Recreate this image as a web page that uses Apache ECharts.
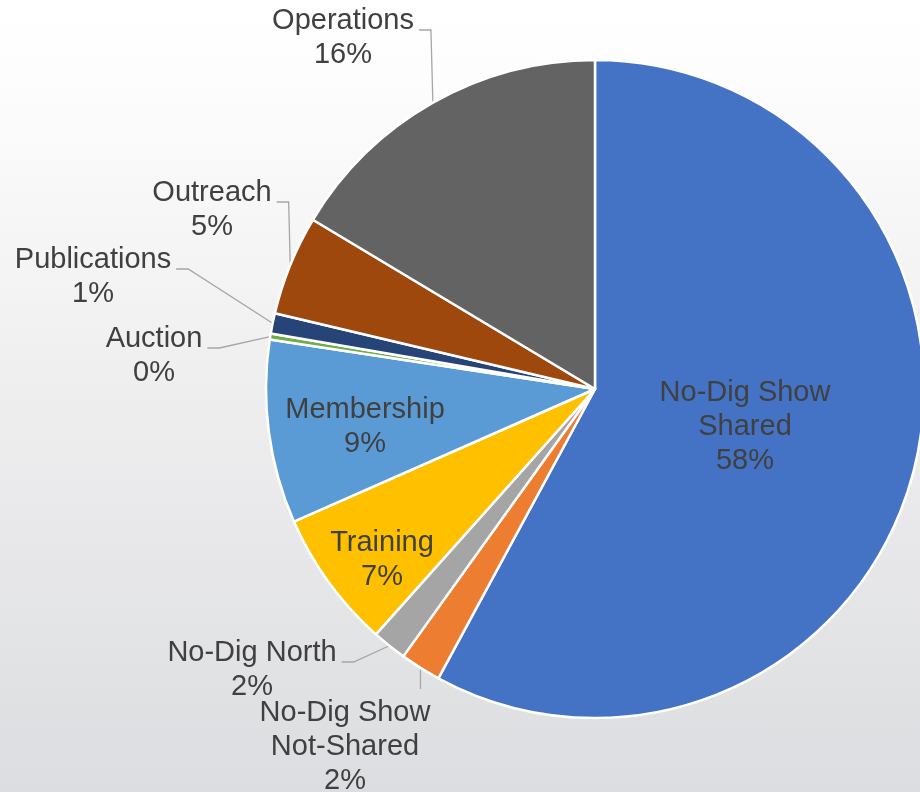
<!DOCTYPE html>
<html>
<head>
<meta charset="utf-8">
<script src="https://cdn.jsdelivr.net/npm/echarts@6/dist/echarts.min.js"></script>
<style>
  html, body { margin: 0; padding: 0; }
  #chart {
    width: 920px; height: 792px;
    background: linear-gradient(to bottom, #ffffff 0%, #fdfdfd 10%, #eeeeef 50%, #dcdde0 100%);
  }
</style>
</head>
<body>
<div id="chart"></div>
<script>
// ---- data ----
var categories = ['No-Dig Show\nShared', 'No-Dig Show\nNot-Shared', 'No-Dig North', 'Training',
                  'Membership', 'Auction', 'Publications', 'Outreach', 'Operations'];
var values = [57.9, 2.0, 1.7, 6.8, 9.0, 0.3, 1.0, 4.9, 16.4];

// ---- styles / layout (not data) ----
var colors = ['#4472C4', '#ED7D31', '#A5A5A5', '#FFC000', '#5B9BD5', '#70AD47', '#264478', '#9E480E', '#636363'];
var insideLabel = [true, false, false, true, true, false, false, false, false];
// label block centres
var labelPos = [[745, 427], [345, 747], [252, 670], [382, 560], [365, 427], [154, 356], [93, 277], [212, 210], [343, 38]];
var lineStyleKind = ['none', 'top', 'right', 'none', 'none', 'right', 'right', 'right', 'right'];
var CX = 595, CY = 389, R = 329;
var FS = 29, LH = 34;

var total = values.reduce(function (a, b) { return a + b; }, 0);
var midAngles = [];
(function () {
  var acc = 0;
  for (var i = 0; i < values.length; i++) {
    midAngles.push((acc + values[i] / 2) / total * Math.PI * 2);
    acc += values[i];
  }
})();

var chart = echarts.init(document.getElementById('chart'), null, { renderer: 'canvas' });

var dataItems = categories.map(function (c, i) {
  return {
    name: c,
    value: values[i],
    itemStyle: { color: colors[i] },
    label: { position: insideLabel[i] ? 'inside' : 'outside' },
    labelLine: { show: !insideLabel[i] }
  };
});

chart.setOption({
  backgroundColor: 'transparent',
  animation: false,
  series: [{
    type: 'pie',
    center: [CX, CY],
    radius: R,
    startAngle: 90,
    clockwise: true,
    avoidLabelOverlap: false,
    percentPrecision: 0,
    itemStyle: { borderColor: '#ffffff', borderWidth: 2.5 },
    label: {
      show: true,
      formatter: '{b}\n{d}%',
      color: '#404040',
      fontSize: FS,
      lineHeight: LH,
      fontFamily: '"Liberation Sans", Arial, sans-serif',
      align: 'center'
    },
    labelLine: {
      show: true,
      length: 10,
      length2: 10,
      lineStyle: { color: '#a6a6a6', width: 1.3 }
    },
    labelLayout: function (p) {
      var i = p.dataIndex;
      var pos = labelPos[i];
      var w = p.labelRect.width, h = p.labelRect.height;
      var res = { x: pos[0], y: pos[1], align: 'center', verticalAlign: 'middle' };
      var a = midAngles[i];
      var edge = [CX + R * Math.sin(a), CY - R * Math.cos(a)];
      if (lineStyleKind[i] === 'right') {
        var ly = pos[1] - h / 2 + LH / 2 + 9;
        var endX = pos[0] + w / 2 + 5;
        res.labelLinePoints = [edge, [endX + 12, ly], [endX, ly]];
      } else if (lineStyleKind[i] === 'top') {
        var top = pos[1] - h / 2 - 7;
        res.labelLinePoints = [edge, [edge[0], top], [edge[0], top]];
      }
      return res;
    },
    data: dataItems
  }]
});
</script>
</body>
</html>
